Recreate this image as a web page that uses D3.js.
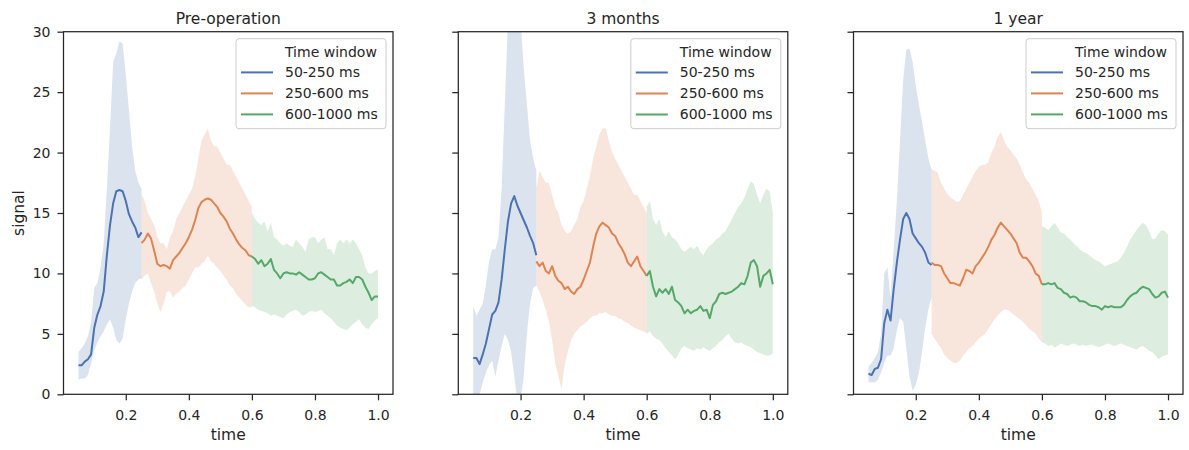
<!DOCTYPE html>
<html>
<head>
<meta charset="utf-8">
<script src="https://cdn.jsdelivr.net/npm/d3@7"></script>
<style>
  body { margin: 0; background: #ffffff; }
  text { font-family: "DejaVu Sans", sans-serif; fill: #262626; }
</style>
</head>
<body>
<svg id="chart" width="1189" height="450"></svg>
<script>
// ---------------- DATA ----------------
const panelTitles = ["Pre-operation", "3 months", "1 year"];
const legendTitle = "Time window";
const windowLabels = ["50-250 ms", "250-600 ms", "600-1000 ms"];
const xTicks = [0.2, 0.4, 0.6, 0.8, 1.0];
const yTicks = [0, 5, 10, 15, 20, 25, 30];

const tBlue = [0.05,0.06,0.07,0.08,0.09,0.10,0.11,0.12,0.13,0.14,0.15,0.16,0.17,0.18,0.19,0.20,0.21,0.22,0.23,0.24,0.25];
const tOrange = [0.25,0.26,0.27,0.28,0.29,0.30,0.31,0.32,0.33,0.34,0.35,0.36,0.37,0.38,0.39,0.40,0.41,0.42,0.43,0.44,0.45,0.46,0.47,0.48,0.49,0.50,0.51,0.52,0.53,0.54,0.55,0.56,0.57,0.58,0.59,0.60];
const tGreen = [0.60,0.61,0.62,0.63,0.64,0.65,0.66,0.67,0.68,0.69,0.70,0.71,0.72,0.73,0.74,0.75,0.76,0.77,0.78,0.79,0.80,0.81,0.82,0.83,0.84,0.85,0.86,0.87,0.88,0.89,0.90,0.91,0.92,0.93,0.94,0.95,0.96,0.97,0.98,0.99,1.00];

// Pre-operation
const preBlueMean = [2.4,2.4,2.7,2.9,3.3,5.5,6.6,7.3,8.5,11.5,14.0,15.8,16.8,16.9,16.8,16.0,14.9,14.3,13.8,13.0,13.4];
const preBlueLow  = [1.2,1.3,1.3,1.6,2.6,3.6,4.3,4.8,5.2,5.8,6.2,5.5,4.5,4.2,4.6,6.2,7.5,8.5,9.2,9.5,9.6];
const preBlueHigh = [3.5,3.8,4.2,4.8,6.0,8.8,9.2,10.5,12.5,17.0,22.0,27.5,28.2,29.2,29.0,26.5,23.5,20.5,18.5,17.5,17.0];
const preOrangeMean = [12.5,12.8,13.3,12.9,11.9,10.8,10.6,10.7,10.6,10.4,11.1,11.4,11.7,12.1,12.5,13.0,13.6,14.4,15.4,15.9,16.1,16.2,16.1,15.8,15.5,15.0,14.7,14.3,13.7,13.3,12.8,12.4,12.1,11.9,11.5,11.4];
const preOrangeLow  = [9.5,9.8,10.0,9.2,8.5,7.5,6.8,7.5,8.5,8.5,8.0,8.3,8.5,8.8,9.0,9.5,10.0,10.5,10.5,10.8,11.0,11.5,11.0,10.8,10.5,10.2,9.8,9.5,9.0,8.8,8.3,8.0,7.7,7.4,7.2,7.2];
const preOrangeHigh = [16.5,16.0,15.0,14.5,14.0,13.0,12.5,12.5,12.0,13.0,13.5,14.5,15.0,15.5,16.0,16.5,17.0,18.0,19.5,21.0,21.5,22.0,21.0,20.5,20.5,20.0,19.5,19.0,19.0,18.5,18.0,17.5,17.0,16.5,16.0,15.5];
const preGreenMean = [11.4,11.2,10.8,11.1,10.6,10.8,11.2,10.3,10.0,9.6,10.0,10.1,10.0,10.0,9.9,10.1,9.9,9.7,9.5,9.5,9.6,10.0,10.1,9.9,9.7,9.5,9.5,9.0,9.0,9.2,9.3,9.5,9.2,9.7,9.7,9.5,8.9,8.4,7.8,8.1,8.1];
const preGreenLow  = [7.3,7.2,7.0,6.9,6.8,6.7,6.5,6.6,6.5,6.4,6.3,6.6,6.8,6.9,7.0,6.8,6.5,6.6,6.8,6.9,6.8,6.9,7.0,6.7,6.5,6.3,6.0,5.7,5.5,5.4,5.3,5.5,5.8,6.0,6.2,5.8,5.5,5.4,5.8,6.1,6.3];
const preGreenHigh = [15.0,14.5,14.2,14.0,14.3,13.5,14.2,13.0,12.8,12.5,12.3,12.5,12.3,12.2,12.8,12.5,12.2,11.8,12.8,13.0,13.0,12.5,12.8,13.0,12.0,12.0,11.5,12.5,12.8,12.5,12.8,12.5,12.8,12.5,12.0,11.5,10.5,10.0,10.0,10.2,10.3];

// 3 months
const m3BlueMean = [3.0,3.0,2.5,3.3,4.2,5.4,6.6,6.9,7.6,9.5,12.0,14.3,15.8,16.4,15.6,15.0,14.4,13.8,13.1,12.5,11.5];
const m3BlueLow  = [-0.5,-0.5,0.0,1.0,1.8,2.4,2.8,1.5,2.8,4.0,5.0,4.5,3.5,1.5,-0.5,-0.5,1.5,5.0,7.5,8.8,9.0];
const m3BlueHigh = [7.3,6.5,7.0,7.5,9.0,11.0,12.0,12.0,13.0,17.0,24.0,31.0,33.0,34.0,33.0,31.0,27.0,24.0,21.0,19.5,18.5];
const m3OrangeMean = [11.0,10.6,10.9,10.2,10.0,10.6,9.8,9.4,9.2,8.7,8.9,8.5,8.3,8.7,8.9,9.5,10.2,10.9,12.2,13.3,13.9,14.2,14.0,13.8,13.3,13.1,12.5,12.1,11.6,10.9,10.6,11.0,11.4,10.6,10.2,9.8];
const m3OrangeLow  = [9.0,8.5,7.8,7.0,6.0,4.5,2.5,1.5,0.4,2.5,3.5,4.5,5.0,5.3,5.6,5.8,6.0,6.3,6.5,6.5,6.7,6.7,6.8,6.6,6.5,6.5,6.3,6.2,6.0,5.9,5.7,5.5,5.4,5.3,5.2,5.1];
const m3OrangeHigh = [17.0,18.5,18.0,17.5,17.5,16.5,15.5,15.0,14.0,13.5,13.3,13.5,14.0,14.5,15.5,16.0,17.0,18.0,19.5,20.5,21.5,22.0,22.0,21.0,20.0,19.5,19.0,18.5,18.0,17.5,17.0,16.5,16.5,16.0,15.5,15.0];
const m3GreenMean = [9.8,10.2,8.9,8.1,8.7,8.4,8.7,8.3,8.9,7.8,7.6,7.3,6.7,7.0,6.7,6.9,7.0,7.3,6.9,7.0,6.3,7.4,7.7,8.3,8.4,8.3,8.4,8.5,8.7,8.9,9.2,9.1,9.8,10.9,11.1,10.6,8.9,9.8,10.0,10.3,9.1];
const m3GreenLow  = [5.0,5.2,4.8,4.6,4.5,4.2,3.8,3.5,3.2,2.9,3.3,3.8,4.0,3.8,3.7,3.6,3.8,3.7,3.9,3.7,3.6,3.8,4.0,4.3,4.5,4.8,5.0,4.6,4.3,4.2,4.3,4.1,4.0,3.9,3.7,3.5,3.4,3.3,3.2,3.2,3.4];
const m3GreenHigh = [15.5,16.0,14.5,14.0,14.5,13.5,13.0,13.5,13.0,12.8,12.5,12.0,11.8,12.0,12.2,12.0,12.3,11.8,11.5,12.0,12.3,12.5,12.8,13.0,13.3,13.5,14.0,14.5,15.0,15.5,15.8,16.3,17.0,17.6,17.4,16.5,15.8,16.5,17.0,16.8,15.0];

// 1 year
const y1BlueMean = [1.7,1.6,2.1,2.2,2.9,5.9,7.0,6.1,8.7,10.9,12.8,14.5,15.0,14.5,13.3,12.9,12.5,12.2,11.7,10.9,10.7];
const y1BlueLow  = [1.0,1.0,1.0,1.2,1.8,2.6,3.2,3.2,3.8,5.3,6.3,6.0,3.8,1.5,0.3,0.8,1.8,3.5,5.5,7.0,8.0];
const y1BlueHigh = [2.3,2.6,3.0,3.5,5.0,10.0,10.5,8.0,12.0,16.0,21.0,26.0,28.5,28.6,27.5,25.5,24.0,22.5,21.0,19.5,18.6];
const y1OrangeMean = [10.9,10.7,10.7,10.6,10.0,9.6,9.2,9.2,9.1,9.0,9.6,10.3,10.2,10.0,10.6,10.9,11.3,11.7,12.2,12.8,13.2,13.8,14.2,13.9,13.6,13.3,12.9,12.5,11.7,11.3,11.3,11.0,10.6,10.0,9.8,9.1];
const y1OrangeLow  = [5.0,4.6,4.2,3.8,3.3,3.0,2.8,2.6,2.6,2.8,3.2,3.5,3.8,4.0,4.3,4.6,4.8,5.0,5.4,5.8,6.2,6.5,6.8,7.0,7.0,6.8,6.6,6.4,6.2,6.0,5.7,5.4,5.2,5.0,4.6,4.3];
const y1OrangeHigh = [18.6,18.5,18.3,17.5,17.0,16.6,16.3,16.1,15.9,16.0,16.5,17.0,17.5,18.0,18.5,18.8,19.0,19.0,19.2,20.0,20.5,21.3,21.7,21.0,20.5,20.2,19.8,19.5,19.0,18.3,17.8,17.5,17.0,16.5,16.0,15.0];
const y1GreenMean = [9.1,9.1,9.2,9.1,9.2,8.8,8.7,8.4,8.3,8.0,8.1,8.0,7.7,7.7,7.6,7.4,7.3,7.3,7.2,7.0,7.3,7.2,7.3,7.2,7.2,7.2,7.4,7.8,8.1,8.3,8.4,8.7,8.9,8.8,8.7,8.3,8.0,8.1,8.4,8.5,8.0];
const y1GreenLow  = [4.3,4.2,4.0,4.1,3.9,4.0,4.2,4.1,4.0,4.1,4.2,4.1,4.0,4.1,4.0,4.1,4.1,4.0,3.9,4.0,4.1,4.2,4.1,4.0,4.1,4.2,4.1,4.0,3.9,3.8,3.7,3.9,4.0,3.8,3.6,3.5,3.2,2.9,3.1,3.2,3.3];
const y1GreenHigh = [13.9,13.8,13.6,13.9,14.2,13.8,13.4,13.3,13.0,12.8,12.5,12.3,12.0,11.8,11.7,11.5,11.3,11.1,11.0,10.8,10.6,10.7,10.8,10.9,11.0,11.3,11.7,12.2,12.8,13.2,13.6,13.9,14.2,14.0,13.5,12.8,12.9,13.3,13.6,13.5,13.2];

const seriesColors = ["#4c72b0", "#dd8452", "#55a868"];

// ---------------- BUILD ----------------
function build(t, mean, low, high) {
  return t.map((d, i) => ({ t: d, m: mean[i], lo: low[i], hi: high[i] }));
}
const panels = [
  [build(tBlue, preBlueMean, preBlueLow, preBlueHigh),
   build(tOrange, preOrangeMean, preOrangeLow, preOrangeHigh),
   build(tGreen, preGreenMean, preGreenLow, preGreenHigh)],
  [build(tBlue, m3BlueMean, m3BlueLow, m3BlueHigh),
   build(tOrange, m3OrangeMean, m3OrangeLow, m3OrangeHigh),
   build(tGreen, m3GreenMean, m3GreenLow, m3GreenHigh)],
  [build(tBlue, y1BlueMean, y1BlueLow, y1BlueHigh),
   build(tOrange, y1OrangeMean, y1OrangeLow, y1OrangeHigh),
   build(tGreen, y1GreenMean, y1GreenLow, y1GreenHigh)]
];

const svg = d3.select("#chart");
const panelLefts = [63.5, 458.3, 853.5];
const panelW = 329.5;
const plotTop = 31.7, plotBottom = 394.3;
const ink = "#262626";
const labelSize = "15.5px";
const tickSize = "14px";

const yScale = d3.scaleLinear().domain([0, 30]).range([plotBottom, plotTop]);

panels.forEach((series, pi) => {
  const L = panelLefts[pi];
  const x = d3.scaleLinear().domain([0.0025, 1.0475]).range([L, L + panelW]);
  const g = svg.append("g");

  const clipId = "clip" + pi;
  svg.append("defs").append("clipPath").attr("id", clipId)
    .append("rect").attr("x", L).attr("y", plotTop).attr("width", panelW).attr("height", plotBottom - plotTop);

  const plot = g.append("g").attr("clip-path", `url(#${clipId})`);

  const area = d3.area().x(d => x(d.t)).y0(d => yScale(d.lo)).y1(d => yScale(d.hi));
  const line = d3.line().x(d => x(d.t)).y(d => yScale(d.m));

  series.forEach((s, si) => {
    plot.append("path").datum(s).attr("d", area)
      .attr("fill", seriesColors[si]).attr("fill-opacity", 0.2).attr("stroke", "none");
  });
  series.forEach((s, si) => {
    plot.append("path").datum(s).attr("d", line)
      .attr("fill", "none").attr("stroke", seriesColors[si])
      .attr("stroke-width", 2).attr("stroke-linejoin", "round").attr("stroke-linecap", "butt");
  });

  // axes
  const xAxis = d3.axisBottom(x).tickValues(xTicks).tickFormat(d3.format(".1f"))
    .tickSize(6).tickPadding(10).tickSizeOuter(0);
  const gx = g.append("g").attr("transform", `translate(0,${plotBottom})`).call(xAxis);
  const yAxis = d3.axisLeft(yScale).tickValues(yTicks).tickSize(6).tickPadding(7).tickSizeOuter(0);
  if (pi !== 0) yAxis.tickFormat("");
  const gy = g.append("g").attr("transform", `translate(${L},0)`).call(yAxis);
  [gx, gy].forEach(a => {
    a.attr("font-size", null).attr("font-family", null);
    a.select(".domain").remove();
    a.selectAll(".tick line").attr("stroke", ink).attr("stroke-width", 1.25);
    a.selectAll(".tick text").attr("fill", ink).style("font-size", tickSize)
      .style("font-family", "'DejaVu Sans', sans-serif");
  });

  // frame
  g.append("rect").attr("x", L).attr("y", plotTop).attr("width", panelW).attr("height", plotBottom - plotTop)
    .attr("fill", "none").attr("stroke", ink).attr("stroke-width", 1.25);

  // title
  g.append("text").attr("x", L + panelW / 2).attr("y", 24).attr("text-anchor", "middle")
    .style("font-size", labelSize).text(panelTitles[pi]);
  // x label
  g.append("text").attr("x", L + panelW / 2).attr("y", 440).attr("text-anchor", "middle")
    .style("font-size", labelSize).text("time");
  if (pi === 0) {
    g.append("text").attr("transform", `translate(24,${(plotTop + plotBottom) / 2}) rotate(-90)`)
      .attr("text-anchor", "middle").style("font-size", labelSize).text("signal");
  }

  // legend
  const lw = 150, lh = 90;
  const lx = L + panelW - 7 - lw, ly = plotTop + 7;
  const lg = g.append("g");
  lg.append("rect").attr("x", lx).attr("y", ly).attr("width", lw).attr("height", lh)
    .attr("rx", 3).attr("fill", "#ffffff").attr("fill-opacity", 0.8)
    .attr("stroke", "#cccccc").attr("stroke-width", 1);
  lg.append("text").attr("x", lx + 49).attr("y", ly + 18).style("font-size", "14px").text(legendTitle);
  windowLabels.forEach((lab, k) => {
    const by = ly + 38.7 + k * 21;
    lg.append("line").attr("x1", lx + 5).attr("x2", lx + 37).attr("y1", by - 5).attr("y2", by - 5)
      .attr("stroke", seriesColors[k]).attr("stroke-width", 2);
    lg.append("text").attr("x", lx + 49).attr("y", by).style("font-size", "14px").text(lab);
  });
});
</script>
</body>
</html>
